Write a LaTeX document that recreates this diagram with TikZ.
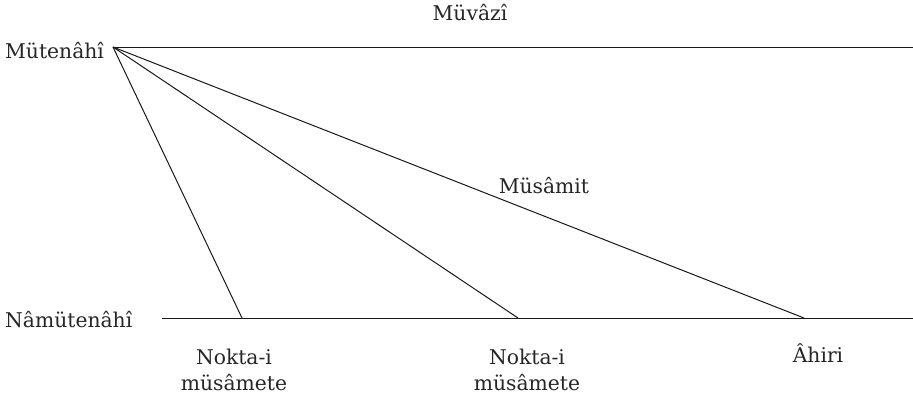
\documentclass[tikz,border=0pt]{standalone}
\usepackage{fontspec}
\setmainfont{DejaVu Serif}
\begin{document}
\begin{tikzpicture}[x=1pt,y=-1pt,
  lbl/.style={inner sep=0pt,font=\fontsize{20.3}{25.5}\selectfont,text=black!85},
  ln/.style={line width=1pt,draw=black!90}]
\useasboundingbox (0,0) rectangle (913,399);
\coordinate (O) at (113,47);
\coordinate (TE) at (913,47);
\coordinate (BS) at (162,318);
\coordinate (BE) at (913,318);
\coordinate (P1) at (242,318);
\coordinate (P2) at (518,318);
\coordinate (P3) at (804,318);
\node[lbl,anchor=base] (muvazi) at (470,20) {Müvâzî};
\node[lbl,anchor=base west] (mutenahi) at (5,58) {Mütenâhî};
\node[lbl,anchor=base west] (namutenahi) at (5,327) {Nâmütenâhî};
\node[lbl,anchor=base] (musamit) at (544,193) {Müsâmit};
\node[lbl,anchor=base,align=center] (n1) at (234,390) {Nokta-i\\müsâmete};
\node[lbl,anchor=base,align=center] (n2) at (527,390) {Nokta-i\\müsâmete};
\node[lbl,anchor=base] (ahiri) at (818,362) {Âhiri};
\draw[ln] (O) -- (TE);
\draw[ln] (BS) -- (BE);
\draw[ln] (O) -- (P1);
\draw[ln] (O) -- (P2);
\draw[ln] (O) -- (P3);
\end{tikzpicture}
\end{document}
